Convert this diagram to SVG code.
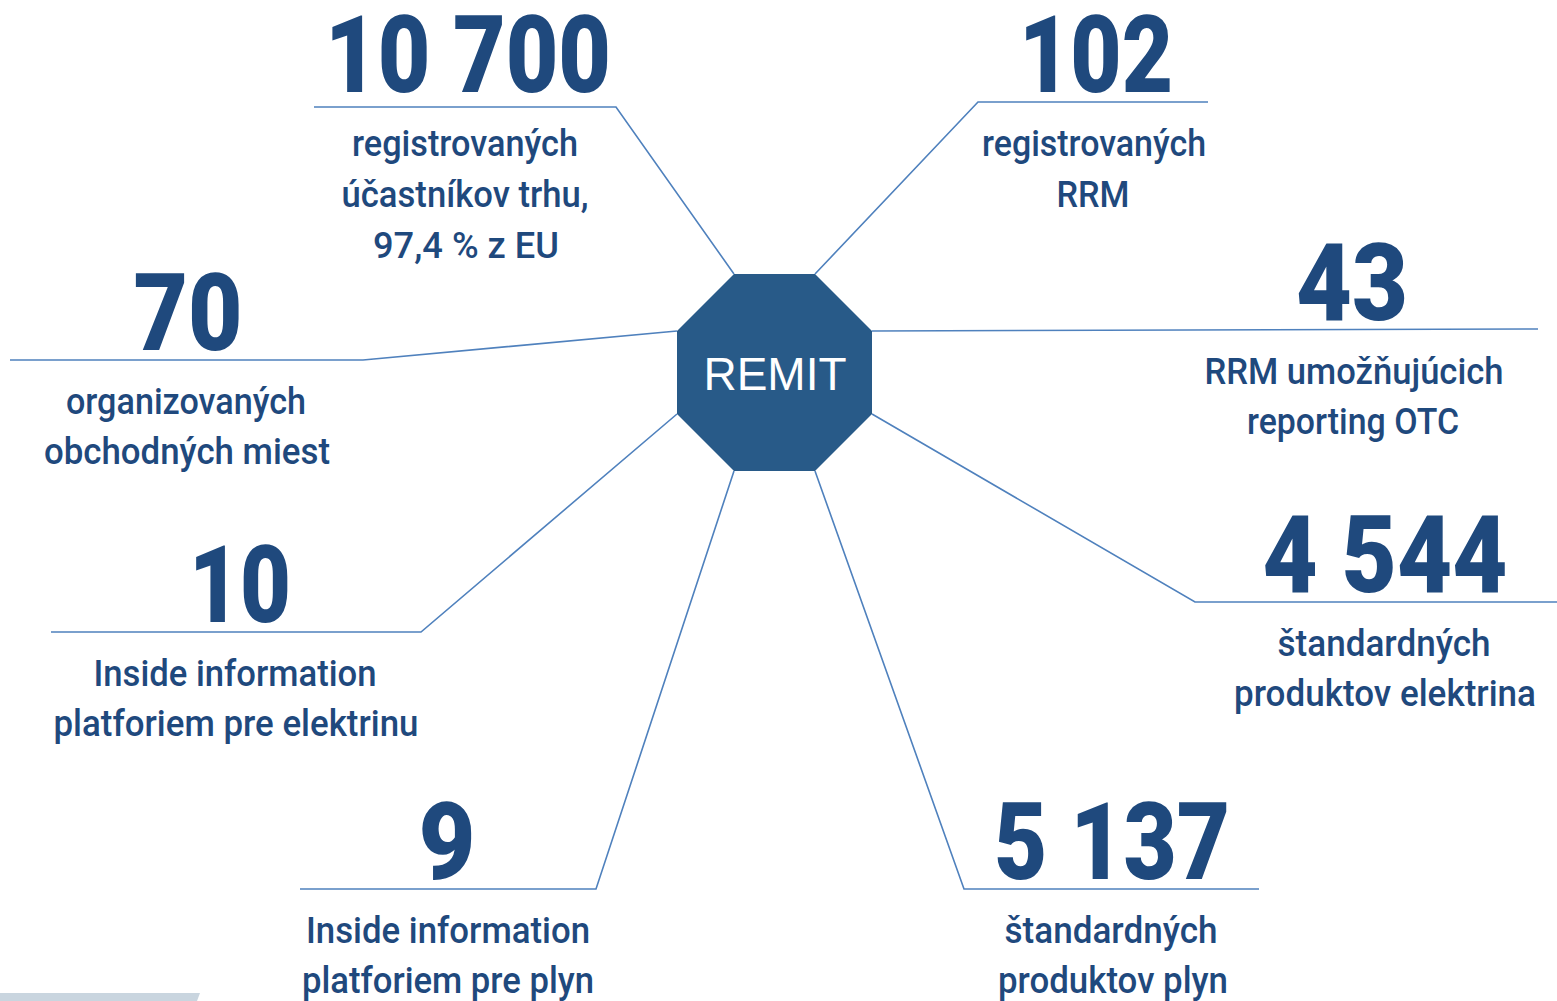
<svg xmlns="http://www.w3.org/2000/svg" width="1557" height="1001" viewBox="0 0 1557 1001">
<style>
.num{font-family:Roboto,"Liberation Sans",sans-serif;font-weight:900;font-size:107px;fill:#1f497d;text-anchor:middle}
.lbl{font-family:Roboto,"Liberation Sans",sans-serif;font-weight:500;font-size:37px;fill:#1f497d;text-anchor:middle}
.conn{fill:none;stroke:#4f81bd;stroke-width:1.6}
</style>
<rect width="1557" height="1001" fill="#ffffff"/>
<polygon points="0,993 200,993 197,1001 0,1001" fill="#c9d5df"/>
<g id="connectors">
<polyline class="conn" points="314,107 616,107 734,274"/>
<polyline class="conn" points="1208,102 978,102 815,274"/>
<polyline class="conn" points="872,331 1538,329"/>
<polyline class="conn" points="872,414 1195,602 1557,602"/>
<polyline class="conn" points="815,471 964,889 1259,889"/>
<polyline class="conn" points="734,471 596,889 300,889"/>
<polyline class="conn" points="677,414 421,632 51,632"/>
<polyline class="conn" points="677,331 363,360 10,360"/>
</g>
<g id="remit">
<polygon points="734,274 815,274 872,331 872,414 815,471 734,471 677,414 677,331" fill="#285a88"/>
<text x="775" y="390" font-family="'Liberation Sans',Arial,sans-serif" font-size="46" fill="#ffffff" text-anchor="middle">REMIT</text>
</g>
<g id="n10700">
<text class="num" x="468" y="92" textLength="286" lengthAdjust="spacingAndGlyphs">10 700</text>
<text class="lbl" x="465" y="156" textLength="226" lengthAdjust="spacingAndGlyphs">registrovaných</text>
<text class="lbl" x="465" y="207" textLength="247" lengthAdjust="spacingAndGlyphs">účastníkov trhu,</text>
<text class="lbl" x="466" y="258" textLength="186" lengthAdjust="spacingAndGlyphs">97,4 % z EU</text>
</g>
<g id="n102">
<text class="num" x="1096" y="92" textLength="154" lengthAdjust="spacingAndGlyphs">102</text>
<text class="lbl" x="1094" y="156" textLength="224" lengthAdjust="spacingAndGlyphs">registrovaných</text>
<text class="lbl" x="1093" y="207" textLength="73" lengthAdjust="spacingAndGlyphs">RRM</text>
</g>
<g id="n43">
<text class="num" x="1352" y="320" textLength="112" lengthAdjust="spacingAndGlyphs">43</text>
<text class="lbl" x="1354" y="384" textLength="299" lengthAdjust="spacingAndGlyphs">RRM umožňujúcich</text>
<text class="lbl" x="1353" y="434" textLength="212" lengthAdjust="spacingAndGlyphs">reporting OTC</text>
</g>
<g id="n4544">
<text class="num" x="1385" y="592" textLength="245" lengthAdjust="spacingAndGlyphs">4 544</text>
<text class="lbl" x="1384" y="656" textLength="213" lengthAdjust="spacingAndGlyphs">štandardných</text>
<text class="lbl" x="1385" y="706" textLength="302" lengthAdjust="spacingAndGlyphs">produktov elektrina</text>
</g>
<g id="n70">
<text class="num" x="188" y="350" textLength="109" lengthAdjust="spacingAndGlyphs">70</text>
<text class="lbl" x="186" y="414" textLength="240" lengthAdjust="spacingAndGlyphs">organizovaných</text>
<text class="lbl" x="187" y="464" textLength="286" lengthAdjust="spacingAndGlyphs">obchodných miest</text>
</g>
<g id="n10">
<text class="num" x="240" y="622" textLength="102" lengthAdjust="spacingAndGlyphs">10</text>
<text class="lbl" x="235" y="686" textLength="283" lengthAdjust="spacingAndGlyphs">Inside information</text>
<text class="lbl" x="236" y="736" textLength="365" lengthAdjust="spacingAndGlyphs">platforiem pre elektrinu</text>
</g>
<g id="n9">
<text class="num" x="447" y="879" textLength="57" lengthAdjust="spacingAndGlyphs">9</text>
<text class="lbl" x="448" y="943" textLength="284" lengthAdjust="spacingAndGlyphs">Inside information</text>
<text class="lbl" x="448" y="993" textLength="292" lengthAdjust="spacingAndGlyphs">platforiem pre plyn</text>
</g>
<g id="n5137">
<text class="num" x="1112" y="879" textLength="236" lengthAdjust="spacingAndGlyphs">5 137</text>
<text class="lbl" x="1111" y="943" textLength="213" lengthAdjust="spacingAndGlyphs">štandardných</text>
<text class="lbl" x="1113" y="993" textLength="230" lengthAdjust="spacingAndGlyphs">produktov plyn</text>
</g>
</svg>
